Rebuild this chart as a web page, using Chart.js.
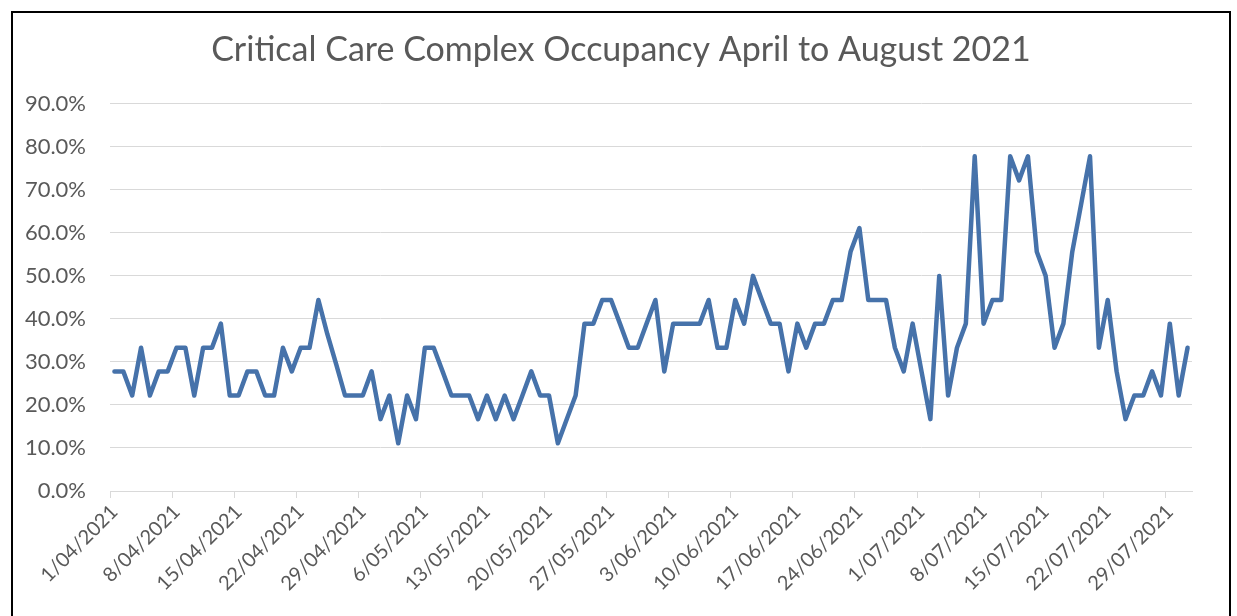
<!DOCTYPE html>
<html>
<head>
<meta charset="utf-8">
<script src="https://cdn.jsdelivr.net/npm/chart.js@4.4.1/dist/chart.umd.min.js"></script>
<style>
  html, body { margin: 0; padding: 0; background: #fff; overflow: hidden; }
  #frame {
    position: absolute; left: 11px; top: 11px;
    width: 1216px; height: 640px;
    border: 2px solid #000; overflow: hidden;
  }
  #wrap { position: relative; width: 1216px; height: 603px; }
</style>
</head>
<body>
<div id="frame"><div id="wrap"><canvas id="lineChart"></canvas></div></div>
<script>
// first day of the series and number of daily points (1/04/2021 - 31/07/2021)
const startDate = new Date(2021, 3, 1);
const dayCount = 122;

// occupancy %, one value per day
const occupancy = [
  27.8, 27.8, 22.2, 33.3, 22.2, 27.8, 27.8, 33.3, 33.3, 22.2,
  33.3, 33.3, 38.9, 22.2, 22.2, 27.8, 27.8, 22.2, 22.2, 33.3,
  27.8, 33.3, 33.3, 44.4, 36.5, 29.5, 22.2, 22.2, 22.2, 27.8,
  16.7, 22.2, 11.1, 22.2, 16.7, 33.3, 33.3, 27.8, 22.2, 22.2,
  22.2, 16.7, 22.2, 16.7, 22.2, 16.7, 22.2, 27.8, 22.2, 22.2,
  11.1, 16.7, 22.2, 38.9, 38.9, 44.4, 44.4, 38.9, 33.3, 33.3,
  38.9, 44.4, 27.8, 38.9, 38.9, 38.9, 38.9, 44.4, 33.3, 33.3,
  44.4, 38.9, 50.0, 44.4, 38.9, 38.9, 27.8, 38.9, 33.3, 38.9,
  38.9, 44.4, 44.4, 55.6, 61.1, 44.4, 44.4, 44.4, 33.3, 27.8,
  38.9, 27.8, 16.7, 50.0, 22.2, 33.3, 38.9, 77.8, 38.9, 44.4,
  44.4, 77.8, 72.2, 77.8, 55.6, 50.0, 33.3, 38.9, 55.6, 66.7,
  77.8, 33.3, 44.4, 27.8, 16.7, 22.2, 22.2, 27.8, 22.2, 38.9,
  22.2, 33.3
];

const yTicks = [0, 10, 20, 30, 40, 50, 60, 70, 80, 90];
const labelEvery = 7;

const days = [];
for (let i = 0; i < dayCount; i++) {
  const d = new Date(startDate);
  d.setDate(d.getDate() + i);
  days.push(d.getDate() + "/" + String(d.getMonth() + 1).padStart(2, "0") + "/" + d.getFullYear());
}

const grey = "#595959";
const gridGrey = "#d9d9d9";

const ctx = document.getElementById("lineChart").getContext("2d");
new Chart(ctx, {
  type: "line",
  data: {
    labels: days,
    datasets: [{
      label: "Occupancy",
      data: occupancy,
      borderColor: "#4672aa",
      borderWidth: 4.5,
      pointRadius: 0,
      tension: 0,
      borderJoinStyle: "round",
      borderCapStyle: "round"
    }]
  },
  options: {
    responsive: true,
    maintainAspectRatio: false,
    animation: false,
    layout: { padding: 0 },
    plugins: {
      legend: { display: false },
      tooltip: { enabled: false },
      title: {
        display: true,
        text: "Critical Care Complex Occupancy April to August 2021",
        color: grey,
        font: { family: "Lato", size: 34, weight: "normal" },
        padding: { top: 17, bottom: 33 }
      }
    },
    scales: {
      x: {
        offset: true,
        grid: {
          offset: true,
          drawOnChartArea: false,
          drawTicks: true,
          tickLength: 7,
          color: c => (c.index % labelEvery === 0 && c.index < dayCount) ? gridGrey : "rgba(0,0,0,0)"
        },
        border: { color: gridGrey },
        ticks: {
          autoSkip: false,
          minRotation: 45,
          maxRotation: 45,
          color: grey,
          font: { family: "Lato", size: 20 },
          padding: 2,
          callback: (v, i) => (i % labelEvery === 0 ? days[i] : "")
        },
        afterFit: s => { s.height = 125; }
      },
      y: {
        min: yTicks[0],
        max: yTicks[yTicks.length - 1],
        afterBuildTicks: s => { s.ticks = yTicks.map(v => ({ value: v })); },
        grid: { color: gridGrey, drawTicks: false },
        border: { display: false },
        ticks: {
          color: grey,
          font: { family: "Lato", size: 22 },
          padding: 24,
          callback: v => v.toFixed(1) + "%"
        },
        afterFit: s => { s.width = 97; }
      },
      // empty right-hand strip so the title stays centred on the whole frame
      yRight: {
        position: "right",
        grid: { display: false },
        border: { display: false },
        ticks: { display: false },
        afterFit: s => { s.width = 37; }
      }
    }
  }
});
</script>
</body>
</html>
